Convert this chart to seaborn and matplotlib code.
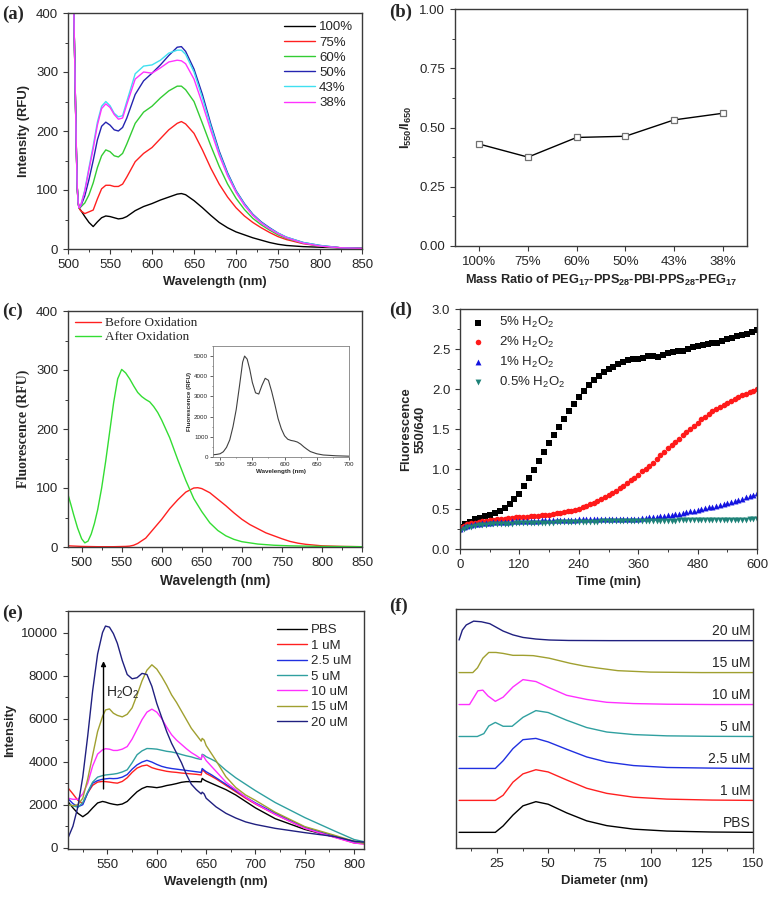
# =========================================
# PBI NANOPARTICLE FLUORESCENCE FIGURE (a-f)
# =========================================

import numpy as np
import matplotlib
matplotlib.use("Agg")
import matplotlib.pyplot as plt
from matplotlib.ticker import MultipleLocator, FormatStrFormatter
import seaborn as sns

# -------------------------------
# (a) EMISSION SPECTRA VS MASS RATIO
# -------------------------------

wl_a = [506, 507, 508, 509, 510, 511, 512, 513, 515, 520, 525, 530, 535, 540, 545,
        550, 555, 560, 565, 570, 580, 590, 600, 610, 620, 630, 635, 640, 650, 660,
        670, 680, 690, 700, 710, 720, 730, 740, 750, 760, 780, 800, 825, 850]

ratio_labels = ["100%", "75%", "60%", "50%", "43%", "38%"]

int_100 = [470, 400, 320, 240, 165, 105, 80, 70, 66, 55, 45, 38, 46, 53, 56,
           55, 53, 51, 52, 55, 65, 72, 77, 83, 88, 93, 94, 92, 82, 70,
           57, 45, 36, 29, 24, 19, 15, 11, 8, 6, 4, 3, 2, 1]
int_75 = [470, 400, 320, 240, 165, 105, 80, 70, 65, 60, 63, 66, 85, 102, 108,
          108, 106, 106, 110, 122, 148, 162, 172, 187, 202, 213, 216, 212, 196, 168,
          137, 110, 88, 70, 56, 45, 36, 28, 21, 16, 9, 5, 2, 1]
int_60 = [470, 400, 320, 240, 165, 105, 80, 70, 71, 78, 92, 112, 138, 158, 168,
          165, 158, 156, 162, 178, 213, 232, 242, 256, 268, 276, 276, 270, 250, 213,
          175, 140, 110, 86, 67, 52, 41, 32, 24, 18, 10, 5, 2, 1]
int_50 = [470, 400, 320, 240, 165, 105, 80, 70, 72, 90, 118, 150, 185, 208, 215,
          210, 202, 200, 206, 222, 262, 285, 298, 312, 328, 342, 343, 335, 305, 262,
          212, 166, 129, 99, 77, 59, 46, 36, 27, 20, 11, 6, 2, 1]
int_43 = [470, 400, 320, 240, 165, 105, 80, 70, 73, 100, 138, 175, 215, 242, 250,
          243, 230, 224, 226, 250, 297, 310, 312, 320, 332, 337, 337, 330, 300, 256,
          208, 163, 127, 98, 76, 58, 45, 35, 27, 20, 11, 6, 2, 1]
int_38 = [470, 400, 320, 240, 165, 105, 80, 70, 73, 98, 135, 170, 210, 238, 246,
          240, 228, 220, 222, 245, 288, 300, 298, 307, 317, 320, 319, 314, 288, 246,
          201, 159, 124, 96, 74, 57, 44, 34, 26, 19, 10, 5, 2, 1]

# -------------------------------
# (b) INTENSITY RATIO
# -------------------------------

ratio_550_650 = [0.43, 0.375, 0.458, 0.463, 0.532, 0.56]

# -------------------------------
# (c) BEFORE / AFTER OXIDATION
# -------------------------------

wl_after = [483, 487, 490, 495, 500, 504, 508, 512, 516, 520, 525, 530, 535, 540, 545,
            550, 555, 560, 565, 570, 575, 580, 585, 590, 595, 600, 610, 620, 630, 640,
            650, 660, 670, 680, 690, 700, 720, 740, 760, 800, 850]
fl_after = [89, 70, 55, 32, 14, 7, 10, 22, 40, 63, 100, 145, 195, 245, 285,
            301, 295, 285, 273, 262, 255, 250, 246, 238, 228, 215, 185, 148, 113, 82,
            60, 41, 28, 19, 13, 9, 5, 3, 2, 1, 0.5]

wl_before = [483, 500, 520, 540, 555, 560, 565, 570, 580, 590, 600, 610, 620, 630, 640,
             645, 650, 660, 670, 680, 690, 700, 710, 720, 730, 740, 750, 760, 770, 780,
             800, 825, 850]
fl_before = [2, 1, 0.5, 0.5, 1, 1.5, 3, 6, 15, 31, 47, 65, 80, 93, 100,
             100.5, 99, 92, 81, 70, 58, 47, 38, 31, 24, 19, 14, 9.5, 6.5, 4.5,
             2, 1, 0.5]

wl_inset = [489, 495, 500, 505, 510, 515, 520, 525, 530, 535, 538, 542, 546, 550, 555,
            560, 565, 570, 575, 580, 585, 590, 595, 600, 605, 610, 615, 620, 625, 630,
            635, 640, 650, 660, 680, 700]
fl_inset = [110, 130, 160, 260, 480, 850, 1500, 2350, 3500, 4700, 5000, 4850, 4350, 3700, 3180,
            3120, 3550, 3900, 3800, 3250, 2600, 1900, 1400, 1050, 880, 820, 790, 740, 640, 500,
            380, 270, 160, 100, 60, 40]

# -------------------------------
# (d) KINETICS OF H2O2 OXIDATION
# -------------------------------

kin_5 = [0.27, 0.31, 0.34, 0.37, 0.39, 0.41, 0.43, 0.45, 0.48, 0.51, 0.56, 0.62, 0.69,
         0.79, 0.89, 0.99, 1.10, 1.21, 1.32, 1.43, 1.53, 1.63, 1.72, 1.81, 1.90, 1.98,
         2.05, 2.11, 2.16, 2.21, 2.25, 2.28, 2.31, 2.34, 2.36, 2.37, 2.38, 2.39, 2.41,
         2.41, 2.40, 2.43, 2.45, 2.46, 2.47, 2.48, 2.50, 2.52, 2.54, 2.55, 2.56, 2.57,
         2.58, 2.60, 2.62, 2.64, 2.66, 2.67, 2.69, 2.71, 2.74]
kin_2 = [0.27, 0.29, 0.31, 0.32, 0.33, 0.34, 0.35, 0.355, 0.36, 0.365, 0.37, 0.375,
         0.38, 0.385, 0.39, 0.395, 0.40, 0.40, 0.405, 0.41, 0.41, 0.415, 0.42, 0.425,
         0.43, 0.44, 0.445, 0.45, 0.46, 0.47, 0.48, 0.49, 0.50, 0.52, 0.54, 0.56,
         0.58, 0.60, 0.62, 0.645, 0.67, 0.70, 0.73, 0.76, 0.79, 0.82, 0.86, 0.89,
         0.93, 0.97, 1.00, 1.04, 1.08, 1.12, 1.17, 1.21, 1.26, 1.30, 1.34, 1.38,
         1.42, 1.46, 1.50, 1.54, 1.58, 1.62, 1.65, 1.69, 1.72, 1.75, 1.78, 1.80,
         1.83, 1.85, 1.88, 1.90, 1.92, 1.94, 1.96, 1.98, 2.00]
kin_1 = [0.25, 0.27, 0.29, 0.30, 0.31, 0.315, 0.32, 0.325, 0.33, 0.333, 0.336, 0.34,
         0.34, 0.343, 0.346, 0.348, 0.35, 0.352, 0.353, 0.354, 0.355, 0.356, 0.357,
         0.358, 0.36, 0.36, 0.362, 0.363, 0.364, 0.365, 0.366, 0.368, 0.37, 0.37,
         0.37, 0.37, 0.37, 0.37, 0.37, 0.37, 0.37, 0.372, 0.373, 0.374, 0.375, 0.376,
         0.377, 0.378, 0.38, 0.385, 0.39, 0.395, 0.40, 0.405, 0.41, 0.415, 0.42,
         0.428, 0.435, 0.443, 0.45, 0.46, 0.47, 0.48, 0.49, 0.50, 0.51, 0.52, 0.53,
         0.54, 0.55, 0.56, 0.57, 0.585, 0.60, 0.615, 0.63, 0.645, 0.66, 0.68, 0.70]
kin_05 = [0.23, 0.25, 0.27, 0.28, 0.29, 0.295, 0.30, 0.305, 0.31, 0.312, 0.313, 0.315,
          0.316, 0.317, 0.318, 0.319, 0.32, 0.321, 0.322, 0.323, 0.324, 0.325, 0.326,
          0.328, 0.33, 0.331, 0.332, 0.333, 0.334, 0.335, 0.336, 0.338, 0.34, 0.341,
          0.341, 0.342, 0.343, 0.343, 0.344, 0.344, 0.345, 0.346, 0.346, 0.347, 0.347,
          0.348, 0.348, 0.349, 0.35, 0.35, 0.351, 0.352, 0.352, 0.353, 0.354, 0.354,
          0.355, 0.356, 0.356, 0.357, 0.358, 0.358, 0.359, 0.359, 0.36, 0.361, 0.361,
          0.362, 0.362, 0.363, 0.364, 0.364, 0.365, 0.366, 0.366, 0.367, 0.368, 0.368,
          0.369, 0.369, 0.37]
kin_labels = ["5% H$_2$O$_2$", "2% H$_2$O$_2$", "1% H$_2$O$_2$", "0.5% H$_2$O$_2$"]

# -------------------------------
# (e) SPECTRA VS H2O2 CONCENTRATION
# -------------------------------

conc_labels = ["PBS", "1 uM", "2.5 uM", "5 uM", "10 uM", "15 uM", "20 uM"]

wl_e = [510, 515, 520, 525, 530, 535, 540, 545, 548, 552, 556, 560, 565, 570, 575,
        580, 585, 590, 595, 600, 605, 610, 615, 620, 625, 630, 635, 640, 645, 646,
        648, 650, 655, 660, 670, 680, 690, 700, 720, 750, 780, 800, 810]

e_pbs = [2140, 1850, 1600, 1440, 1600, 1850, 2080, 2150, 2120, 2060, 2020, 1990, 2030, 2150, 2380,
         2600, 2750, 2840, 2820, 2790, 2830, 2890, 2930, 2980, 3040, 3070, 3070, 3070, 3060, 3220,
         3150, 3100, 3000, 2900, 2700, 2450, 2150, 1850, 1350, 850, 500, 280, 200]
e_1 = [2780, 2500, 2200, 2050, 2550, 2900, 3050, 3080, 3070, 3050, 3020, 3000, 3080, 3250, 3500,
       3700, 3800, 3840, 3720, 3650, 3600, 3550, 3520, 3500, 3470, 3450, 3430, 3410, 3380, 3610,
       3550, 3450, 3330, 3200, 2900, 2600, 2300, 2030, 1550, 900, 500, 220, 180]
e_25 = [2280, 2050, 1900, 2000, 2550, 3000, 3120, 3180, 3200, 3220, 3210, 3220, 3280, 3400, 3650,
        3850, 3980, 4060, 3980, 3870, 3780, 3720, 3680, 3650, 3620, 3590, 3560, 3530, 3500, 3680,
        3600, 3530, 3400, 3250, 2950, 2650, 2350, 2080, 1600, 950, 540, 250, 200]
e_5 = [2020, 1950, 1880, 2100, 2600, 3050, 3280, 3350, 3380, 3400, 3420, 3450, 3520, 3620, 3950,
       4320, 4500, 4610, 4600, 4580, 4530, 4480, 4450, 4400, 4330, 4270, 4220, 4150, 4100, 4340,
       4300, 4230, 4120, 4000, 3600, 3250, 2950, 2650, 2100, 1400, 780, 380, 280]
e_10 = [2300, 2250, 2250, 2500, 3000, 3800, 4350, 4550, 4600, 4580, 4520, 4520, 4580, 4700, 5050,
        5500, 5950, 6300, 6440, 6300, 6000, 5600, 5250, 5000, 4800, 4600, 4420, 4280, 4120, 4310,
        4200, 4050, 3800, 3550, 3050, 2700, 2350, 2050, 1550, 900, 480, 220, 170]
e_15 = [2000, 1950, 2000, 2300, 3200, 4300, 5400, 6100, 6400, 6450, 6250, 6150, 6080, 6200, 6500,
        7100, 7750, 8250, 8500, 8300, 7950, 7550, 7100, 6750, 6350, 5950, 5550, 5250, 4950, 5080,
        5000, 4750, 4400, 4050, 3300, 2800, 2450, 2200, 1650, 980, 580, 300, 200]
e_20 = [450, 1000, 1900, 3300, 5200, 7300, 9000, 10000, 10300, 10250, 9950, 9500, 8700, 8050, 7850,
        7900, 8100, 8050, 7500, 6700, 6050, 5400, 4850, 4400, 3950, 3400, 2950, 2700, 2500, 2580,
        2500, 2300, 2100, 1900, 1600, 1380, 1200, 1080, 900, 700, 520, 300, 260]

# -------------------------------
# (f) SIZE DISTRIBUTION (STACKED)
# -------------------------------

d_pbs = [6.5, 24.2, 28, 32.8, 37.7, 44, 50, 59, 68.8, 78.6, 91.7, 108, 130, 150]
n_pbs = [0, 0, 0.2, 0.54, 0.83, 0.96, 0.88, 0.61, 0.36, 0.21, 0.10, 0.04, 0.01, 0]
d_1 = [6.5, 24.2, 28, 32.8, 37.7, 44, 50, 59, 68.8, 78.6, 91.7, 108, 130, 150]
n_1 = [0, 0, 0.16, 0.57, 0.83, 0.96, 0.89, 0.64, 0.38, 0.22, 0.10, 0.04, 0.01, 0]
d_25 = [6.5, 24.2, 28, 32.8, 37.7, 44, 50, 59, 68.8, 78.6, 91.7, 108, 130, 150]
n_25 = [0, 0, 0.24, 0.62, 0.9, 0.94, 0.83, 0.6, 0.36, 0.2, 0.09, 0.03, 0.01, 0]
d_5 = [6.5, 15.4, 18.6, 21, 24.2, 28, 32.4, 37.7, 44, 50, 59, 68.8, 78.6, 91.7, 108, 130, 150]
n_5 = [0, 0, 0.09, 0.33, 0.44, 0.32, 0.32, 0.6, 0.81, 0.75, 0.51, 0.28, 0.14, 0.06, 0.02, 0.005, 0]
d_10 = [6.5, 11.6, 15.7, 18.1, 20.6, 24.2, 28, 32.8, 37.7, 44, 50, 59, 68.8, 78.6, 91.7, 108, 130, 150]
n_10 = [0, 0, 0.43, 0.45, 0.27, 0.1, 0.23, 0.55, 0.78, 0.72, 0.54, 0.29, 0.16, 0.07, 0.03, 0.01, 0, 0]
d_15 = [6.5, 13.2, 15.5, 18.1, 21, 24.5, 28, 32.8, 37.7, 42.7, 50.5, 60.8, 68, 74.5, 84, 100, 125, 150]
n_15 = [0, 0, 0.15, 0.45, 0.63, 0.63, 0.6, 0.54, 0.54, 0.53, 0.45, 0.29, 0.2, 0.14, 0.06, 0.015, 0, 0]
d_20 = [6.5, 8.1, 10, 13.6, 17.4, 21.5, 28, 32.8, 37.7, 44, 50.5, 60, 80, 150]
n_20 = [0.02, 0.33, 0.49, 0.61, 0.59, 0.53, 0.3, 0.18, 0.1, 0.05, 0.02, 0.005, 0, 0]

# =========================================
# STYLE
# =========================================

sns.set_style("ticks")
plt.rcParams["font.family"] = ["Liberation Sans", "DejaVu Sans"]
plt.rcParams["mathtext.fontset"] = "custom"
plt.rcParams["mathtext.rm"] = "Liberation Sans"
plt.rcParams["mathtext.it"] = "Liberation Sans:italic"
plt.rcParams["mathtext.bf"] = "Liberation Sans:bold"
plt.rcParams["mathtext.default"] = "rm"
plt.rcParams["axes.edgecolor"] = "#3a3a3a"
plt.rcParams["axes.linewidth"] = 1.0

SERIF = ["Liberation Serif", "DejaVu Serif"]
TICK = 9.5
LAB = 9.4
LEG = 9.5

colors_a = ["#000000", "#ff2020", "#33cc33", "#2424b0", "#40e0f0", "#ff33ff"]
colors_e = ["#000000", "#ff2020", "#2030e0", "#30a0a0", "#ff30ff", "#a0a030", "#202080"]


def style_axis(ax, size=TICK):
    ax.tick_params(which="major", direction="out", length=3.5, width=0.8,
                   labelsize=size, top=False, right=False, color="#3a3a3a")
    ax.tick_params(which="minor", direction="out", length=2, width=0.7,
                   top=False, right=False, color="#3a3a3a")
    for sp in ax.spines.values():
        sp.set_visible(True)


fig = plt.figure(figsize=(7.71, 8.98), dpi=100)

W, H = 771.0, 898.0


def add_ax(left, top, right, bottom):
    return fig.add_axes([left / W, 1 - bottom / H, (right - left) / W, (bottom - top) / H])


# =========================================
# PANEL (a)
# =========================================

ax = add_ax(68, 13, 362, 249)
for vals, lab, col in zip([int_100, int_75, int_60, int_50, int_43, int_38], ratio_labels, colors_a):
    sns.lineplot(x=wl_a, y=vals, color=col, lw=1.0, label=lab, ax=ax,
                 estimator=None, sort=False)
ax.set_xlim(500, 850)
ax.set_ylim(0, 400)
ax.xaxis.set_major_locator(MultipleLocator(50))
ax.xaxis.set_minor_locator(MultipleLocator(25))
ax.yaxis.set_major_locator(MultipleLocator(100))
ax.yaxis.set_minor_locator(MultipleLocator(50))
ax.set_xlabel("Wavelength (nm)", fontsize=LAB, fontweight="bold")
ax.set_ylabel("Intensity (RFU)", fontsize=LAB, fontweight="bold")
style_axis(ax)
ax.legend(loc="upper left", bbox_to_anchor=(0.735, 0.965), frameon=False, fontsize=LEG,
          handlelength=2.35, handletextpad=0.3, labelspacing=0.22, borderpad=0, borderaxespad=0)

# =========================================
# PANEL (b)
# =========================================

ax = add_ax(455, 9, 747, 246)
sns.lineplot(x=np.arange(len(ratio_550_650)), y=ratio_550_650, color="black", lw=1.0,
             marker="s", markersize=4.5, markerfacecolor="white", markeredgecolor="#707070",
             markeredgewidth=0.9, ax=ax, estimator=None, sort=False)
ax.set_xlim(-0.5, 5.5)
ax.set_ylim(0, 1.0)
ax.set_xticks(np.arange(len(ratio_labels)))
ax.set_xticklabels(ratio_labels)
ax.yaxis.set_major_locator(MultipleLocator(0.25))
ax.yaxis.set_minor_locator(MultipleLocator(0.125))
ax.yaxis.set_major_formatter(FormatStrFormatter("%.2f"))
ax.set_ylabel(r"I$_{\mathbf{550}}$/I$_{\mathbf{650}}$", fontsize=LAB, fontweight="bold")
ax.set_xlabel(r"Mass Ratio of PEG$_{\mathbf{17}}$-PPS$_{\mathbf{28}}$-PBI-PPS$_{\mathbf{28}}$-PEG$_{\mathbf{17}}$",
              fontsize=9.2, fontweight="bold")
style_axis(ax)

# =========================================
# PANEL (c)
# =========================================

ax = add_ax(68, 311, 362, 547)
sns.lineplot(x=wl_before, y=fl_before, color="#ff2020", lw=1.0, label="Before Oxidation",
             ax=ax, estimator=None, sort=False)
sns.lineplot(x=wl_after, y=fl_after, color="#33dd33", lw=1.0, label="After Oxidation",
             ax=ax, estimator=None, sort=False)
ax.set_xlim(483, 850)
ax.set_ylim(0, 400)
ax.xaxis.set_major_locator(MultipleLocator(50))
ax.xaxis.set_minor_locator(MultipleLocator(25))
ax.yaxis.set_major_locator(MultipleLocator(100))
ax.yaxis.set_minor_locator(MultipleLocator(50))
ax.set_xlabel("Wavelength (nm)", fontsize=LAB + 0.5, fontweight="bold")
ax.set_ylabel("Fluorescence (RFU)", fontsize=10, fontweight="bold", family=SERIF)
style_axis(ax)
ax.legend(loc="upper left", bbox_to_anchor=(0.024, 0.975), frameon=False,
          prop={"family": SERIF, "size": 9.5}, handlelength=2.0, handletextpad=0.3,
          labelspacing=0.15, borderpad=0, borderaxespad=0)

axi = add_ax(213, 346, 349, 457)
sns.lineplot(x=wl_inset, y=fl_inset, color="#404040", lw=0.8, ax=axi,
             estimator=None, sort=False)
axi.set_xlim(489, 700)
axi.set_ylim(0, 5500)
axi.xaxis.set_major_locator(MultipleLocator(50))
axi.xaxis.set_minor_locator(MultipleLocator(25))
axi.yaxis.set_major_locator(MultipleLocator(1000))
axi.yaxis.set_minor_locator(MultipleLocator(500))
axi.set_xlabel("Wavelength (nm)", fontsize=4.5, fontweight="bold", labelpad=1.5)
axi.set_ylabel("Fluorescence (RFU)", fontsize=4.5, fontweight="bold", labelpad=1.5)
axi.tick_params(which="major", direction="out", length=2, width=0.5, labelsize=4.5, pad=1.5)
axi.tick_params(which="minor", direction="out", length=1, width=0.4)
for sp in axi.spines.values():
    sp.set_linewidth(0.6)
    sp.set_color("#808080")

# =========================================
# PANEL (d)
# =========================================

ax = add_ax(460, 309, 757, 549)
series_d = [
    (kin_5, 10.0, "s", "#000000", 17),
    (kin_2, 7.5, "o", "#ff1a1a", 16),
    (kin_1, 7.5, "^", "#1414e0", 18),
    (kin_05, 7.5, "v", "#1e8278", 18),
]
for (vals, step, mk, col, size), lab in zip(series_d, kin_labels):
    t = np.arange(len(vals)) * step
    sns.scatterplot(x=t, y=vals, marker=mk, color=col, s=size, linewidth=0,
                    label=lab, ax=ax)
ax.set_xlim(0, 600)
ax.set_ylim(0, 3.0)
ax.xaxis.set_major_locator(MultipleLocator(120))
ax.xaxis.set_minor_locator(MultipleLocator(60))
ax.yaxis.set_major_locator(MultipleLocator(0.5))
ax.yaxis.set_minor_locator(MultipleLocator(0.25))
ax.yaxis.set_major_formatter(FormatStrFormatter("%.1f"))
ax.set_xlabel("Time (min)", fontsize=LAB, fontweight="bold")
ax.set_ylabel("Fluorescence\n550/640", fontsize=LAB, fontweight="bold")
style_axis(ax)
ax.legend(loc="upper left", bbox_to_anchor=(0.035, 0.975), frameon=False, fontsize=LEG,
          handlelength=1.2, handletextpad=1.0, labelspacing=0.36, borderpad=0,
          borderaxespad=0, markerscale=1.0)

# =========================================
# PANEL (e)
# =========================================

ax = add_ax(68, 611, 364, 849)
for vals, lab, col in zip([e_pbs, e_1, e_25, e_5, e_10, e_15, e_20], conc_labels, colors_e):
    sns.lineplot(x=wl_e, y=vals, color=col, lw=1.0, label=lab, ax=ax,
                 estimator=None, sort=False)
ax.set_xlim(510, 810)
ax.set_ylim(-60, 11000)
ax.xaxis.set_major_locator(MultipleLocator(50))
ax.xaxis.set_minor_locator(MultipleLocator(25))
ax.yaxis.set_major_locator(MultipleLocator(2000))
ax.yaxis.set_minor_locator(MultipleLocator(1000))
ax.set_xlabel("Wavelength (nm)", fontsize=LAB, fontweight="bold")
ax.set_ylabel("Intensity", fontsize=LAB, fontweight="bold")
style_axis(ax)
ax.annotate("", xy=(546, 8800), xytext=(546, 2600),
            arrowprops=dict(arrowstyle="-|>", color="black", lw=1.0, mutation_scale=7))
ax.text(549, 7200, "H$_2$O$_2$", fontsize=10, va="center", ha="left")
ax.legend(loc="upper left", bbox_to_anchor=(0.706, 0.945), frameon=False, fontsize=LEG,
          handlelength=2.3, handletextpad=0.3, labelspacing=0.24, borderpad=0, borderaxespad=0)

# =========================================
# PANEL (f)
# =========================================

ax = add_ax(456, 609, 753, 848)
series_f = [(d_pbs, n_pbs), (d_1, n_1), (d_25, n_25), (d_5, n_5),
            (d_10, n_10), (d_15, n_15), (d_20, n_20)]
for k, ((dx, dy), lab, col) in enumerate(zip(series_f, conc_labels, colors_e)):
    sns.lineplot(x=dx, y=np.array(dy) + k, color=col, lw=1.0, ax=ax,
                 estimator=None, sort=False)
    ax.text(149, k + 0.08, lab, ha="right", va="bottom", fontsize=10)
ax.set_xlim(5, 150)
ax.set_ylim(-0.49, 6.99)
ax.xaxis.set_major_locator(MultipleLocator(25))
ax.xaxis.set_minor_locator(MultipleLocator(12.5))
ax.set_yticks([])
ax.set_xlabel("Diameter (nm)", fontsize=LAB, fontweight="bold")
style_axis(ax)

# =========================================
# PANEL LETTERS
# =========================================

letters = [("(a)", 2, 14), ("(b)", 389, 12.5), ("(c)", 2, 311.5),
           ("(d)", 389, 310), ("(e)", 2, 613), ("(f)", 389, 606.5)]
for txt, px, py in letters:
    fig.text(px / W, 1 - py / H, txt, fontsize=13.5, fontweight="bold", family=SERIF,
             ha="left", va="center")

plt.savefig("out.png", dpi=100)
plt.close()
